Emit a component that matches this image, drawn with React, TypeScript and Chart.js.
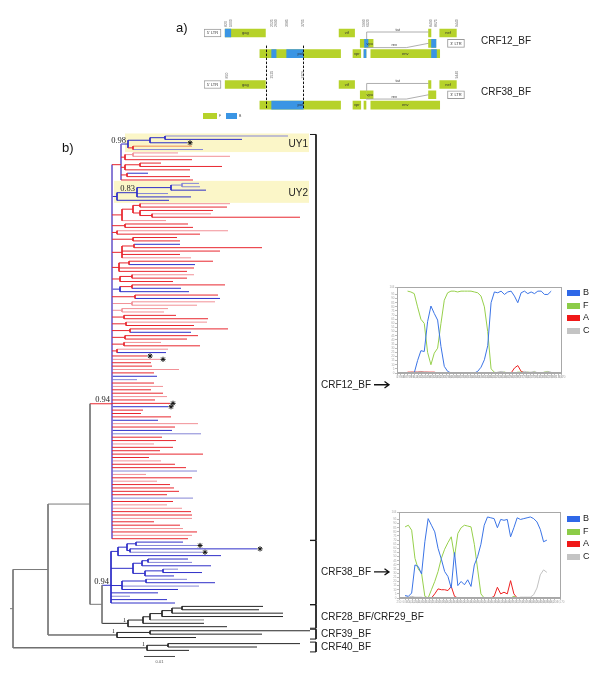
import React, { useEffect, useRef } from "react";
import { Chart, registerables } from "chart.js";

Chart.register(...registerables);

const SANS = 'Arial, "Liberation Sans", Helvetica, sans-serif';
const SERIF = '"Times New Roman", "Liberation Serif", "DejaVu Serif", serif';
Chart.defaults.font.family = SANS;

// ================= Panel b : phylogenetic tree (Newick; leaf letter = colour code, * = marked) =================
const UY1_CLADE = "(((l:123,b:77):15,b*:37):22,(o:59,l:70):5)0.98#UY1";
const N1_SUBCLADES = ["((p:45,p:97):8,r:67):4", "((r:21,r:82):15,r:65):4", "(b:21,r:63):6", "r:72"];
const UY2_CLADE = "((((l:17,l:18):11,b:35):34,l:31,b:54)0.83:20,b:52)#UY2";
const CRF12_SUBCLADES = [
  "(((p:90,r:87):7,(r:73,(p:59,r:148):12):7):11,p:44):10",
  "(r:63,r:68):13",
  "(p:111,r:83):5",
  "(r:44,r:47):21",
  "((b:46,r:128):12,r:98,r:58,p:69):10",
  "((r:84,b:66):10,r:75,r:68):7",
  "((p:62,r:55):12,r:53):8",
  "((r:93,b:49):12,b:69):8",
  "(r:83,b:85):23",
  "(p:83,p:65):20",
  "(p:46,p:42):10",
  "(r:52,r:84):12",
  "(p:81,r:68):14",
  "(r:98,b:61):18",
  "(r:73,r:62):13",
  "(p:37,r:76):12",
  "(p:51,b:49):5",
];
const COMB_LENGTHS = [35, 48, 39, 40, 67, 42, 45, 25, 42, 51, 39, 51, 55, 43, 58, 56, 31, 29, 59, 46, 86, 63, 60, 89, 50, 64, 42, 61, 48, 91, 37, 49, 63, 74, 85, 34, 80, 45, 58, 62, 67, 55, 81, 61, 55, 70, 79, 80, 80, 42, 68, 71, 85, 80, 76];
const COMB_COLORS = ["r*", "p*", "r", "r", "p", "r", "b", "l", "r", "p", "r", "r", "p", "r", "r*", "b*", "r", "r", "r", "b", "p", "r", "b", "l", "r", "r", "p", "r", "r", "r", "r", "p", "r", "r", "l", "p", "r", "p", "r", "r", "r", "r", "l", "r", "p", "p", "r", "r", "p", "r", "r", "p", "r", "p", "r"];
const CRF38_S1 = "(((b:47,l*:61):9,(b*:127,l*:72):3):9,b:103)";
const CRF38_S2 = "(((b:40,l:44):6,b:69):9,((l:15,b:39):18,b:29):12)";
const CRF38_S3 = "((l:41,b:69):24,l:77,b:56)";
const CRF38_LEAVES = ["b:47", "l:19", "b:56", "b:64"];
const CRF28_29_CLADE = "((((((k:81,k:77):10,k:111):10,k:121):12,g:54):7,k:61):15,k:99)1#CRF28_BF/CRF29_BF";
const CRF39_CLADE = "((k:160,k:112):33,k:79)1#CRF39_BF";
const CRF40_CLADE = "((k:132,k:89):21,k:42)1#CRF40_BF";

const N1_CLADE = `(${UY1_CLADE}:7,${N1_SUBCLADES.join(",")})`;
const COMB = COMB_COLORS.map((c, i) => `${c}:${COMB_LENGTHS[i]}`).join(",");
const CRF12_CLADE = `(${N1_CLADE}:9,${UY2_CLADE}:5,${CRF12_SUBCLADES.join(",")},${COMB})0.94#CRF12_BF`;
const CRF38_CLADE = `(${CRF38_S1}:7,${CRF38_S2}:22,${CRF38_S3}:11,${CRF38_LEAVES.join(",")})0.94#CRF38_BF`;
const TREE_NEWICK = `(((${CRF12_CLADE}:22,(${CRF38_CLADE}:9,${CRF28_29_CLADE}:26):12):42,${CRF39_CLADE}:69):35,${CRF40_CLADE}:134):3`;

const HIGHLIGHT_CLADES = ["UY1", "UY2"];
const BRACKET_CLADES = ["CRF12_BF", "CRF38_BF", "CRF28_BF/CRF29_BF", "CRF39_BF", "CRF40_BF"];
const BRACKET_LABEL_ROWS: Record<string, number> = { CRF12_BF: 73.5, CRF38_BF: 128.8 };
const CLADE_ROW_GAPS: Record<string, number> = { CRF39_BF: 0.2, CRF40_BF: 0.8 };
const SCALE_BAR_LABEL = "0.01";
const SCALE_BAR_LENGTH = 31;

const LEAF_COLORS: Record<string, string> = {
  r: "#e8262e", p: "#f29197", b: "#2e2ec8", l: "#8585d6", o: "#ee8a55", k: "#262626", g: "#8a8a8a",
};
const FAMILY: Record<string, string> = { r: "R", p: "R", o: "R", b: "B", l: "B", k: "K", g: "K" };

// axis frames of the tree plot (tree units / leaf rows)
const TREE_X_MIN = -10, TREE_X_MAX = 590;
const TREE_Y_MIN = -40.19, TREE_Y_MAX = 160.16;
const HIGHLIGHT_RIGHT = 299, HIGHLIGHT_INSET = 3, HIGHLIGHT_PAD = 0.75;
const BRACKET_X = 306, BRACKET_STUB = 6, BRACKET_PAD = 0.45, BRACKET_LABEL_X = 311;
const SCALE_BAR_X = 134, SCALE_BAR_ROW = 153.8;

type TNode = {
  children: TNode[]; len: number; name: string; support: string; clade: string; star: boolean;
  x: number; y: number; leafMin: number; leafMax: number; letters: string[]; parent: TNode | null;
};

function parseNewick(src: string): TNode {
  let i = 0;
  const read = (): TNode => {
    const n: TNode = { children: [], len: 0, name: "", support: "", clade: "", star: false, x: 0, y: 0, leafMin: 0, leafMax: 0, letters: [], parent: null };
    if (src[i] === "(") {
      i++;
      n.children.push(read());
      while (src[i] === ",") { i++; n.children.push(read()); }
      i++;
    }
    let label = "";
    while (i < src.length && ":,()".indexOf(src[i]) < 0) label += src[i++];
    if (src[i] === ":") {
      i++;
      let num = "";
      while (i < src.length && "0123456789.".indexOf(src[i]) >= 0) num += src[i++];
      n.len = parseFloat(num);
    }
    if (n.children.length) {
      const parts = label.split("#");
      n.support = parts[0] || "";
      n.clade = parts[1] || "";
      n.children.forEach((c) => (c.parent = n));
    } else {
      n.star = label.indexOf("*") >= 0;
      n.name = label.replace("*", "");
    }
    return n;
  };
  return read();
}

function layoutTree(root: TNode) {
  const nodes: TNode[] = [];
  const leaves: TNode[] = [];
  let row = 0;
  const walk = (n: TNode, px: number) => {
    n.x = px + n.len;
    nodes.push(n);
    if (n.clade && CLADE_ROW_GAPS[n.clade]) row += CLADE_ROW_GAPS[n.clade];
    if (!n.children.length) {
      n.y = row; row += 1;
      n.leafMin = n.leafMax = n.y; n.letters = [n.name]; leaves.push(n);
      return;
    }
    n.children.forEach((c) => walk(c, n.x));
    n.y = n.children.reduce((s, c) => s + c.y, 0) / n.children.length;
    n.leafMin = n.children[0].leafMin;
    n.leafMax = n.children[n.children.length - 1].leafMax;
    n.letters = n.children.reduce((a: string[], c) => a.concat(c.letters), []);
  };
  walk(root, 0);
  const byClade: Record<string, TNode> = {};
  nodes.forEach((n) => { if (n.clade) byClade[n.clade] = n; });
  return { root, nodes, leaves, byClade };
}

const TREE = layoutTree(parseNewick(TREE_NEWICK));

function nodeColor(n: TNode, vertical: boolean): string {
  if (!n.children.length) return LEAF_COLORS[n.name] || "#333";
  const set = Array.from(new Set(n.letters));
  if (set.length === 1) return LEAF_COLORS[set[0]];
  let R = 0, B = 0, K = 0;
  n.letters.forEach((l) => { const f = FAMILY[l]; if (f === "R") R++; else if (f === "B") B++; else K++; });
  if (K && (R || B)) return "#7a7a7a";
  if (K) return "#2a2a2a";
  if (vertical && R && B && n.letters.length >= 10) return "#7b6bd0";
  return R >= B ? "#e8262e" : "#2e2ec8";
}

function buildTreeDatasets() {
  const groups: Record<string, any[]> = {};
  const add = (c: string, x1: number, y1: number, x2: number, y2: number) => {
    (groups[c] = groups[c] || []).push({ x: x1, y: y1 }, { x: x2, y: y2 }, { x: null, y: null });
  };
  TREE.nodes.forEach((n) => {
    const px = n.parent ? n.parent.x : n.x - n.len;
    add(nodeColor(n, false), px, n.y, n.x, n.y);
    if (n.children.length) add(nodeColor(n, true), n.x, n.children[0].y, n.x, n.children[n.children.length - 1].y);
  });
  BRACKET_CLADES.forEach((name) => {
    const n = TREE.byClade[name];
    const y1 = n.leafMin - BRACKET_PAD, y2 = n.leafMax + BRACKET_PAD;
    add("#1a1a1a", BRACKET_X - BRACKET_STUB, y1, BRACKET_X, y1);
    add("#1a1a1a", BRACKET_X, y1, BRACKET_X, y2);
    add("#1a1a1a", BRACKET_X, y2, BRACKET_X - BRACKET_STUB, y2);
  });
  add("#444444", SCALE_BAR_X, SCALE_BAR_ROW, SCALE_BAR_X + SCALE_BAR_LENGTH, SCALE_BAR_ROW);
  const lines = Object.keys(groups).map((c) => ({
    type: "scatter", data: groups[c], showLine: true, borderColor: c, borderWidth: 1,
    pointRadius: 0, spanGaps: false, borderCapStyle: "butt",
  }));
  const stars = {
    type: "scatter",
    data: TREE.leaves.filter((l) => l.star).map((l) => ({ x: l.x + 3, y: l.y })),
    pointStyle: "star", pointRadius: 2.6, borderColor: "#111", borderWidth: 1, backgroundColor: "#111", showLine: false,
  };
  return [stars, ...lines];
}

const treePlugin = {
  id: "treeDecor",
  beforeDatasetsDraw(chart: any) {
    const { ctx } = chart;
    const xs = chart.scales.x, ys = chart.scales.y;
    ctx.save();
    HIGHLIGHT_CLADES.forEach((name) => {
      const n = TREE.byClade[name];
      const x1 = xs.getPixelForValue(n.x - HIGHLIGHT_INSET), x2 = xs.getPixelForValue(HIGHLIGHT_RIGHT);
      const y1 = ys.getPixelForValue(n.leafMin - HIGHLIGHT_PAD), y2 = ys.getPixelForValue(n.leafMax + HIGHLIGHT_PAD);
      ctx.fillStyle = "#fbf6c8";
      ctx.fillRect(x1, y1, x2 - x1, y2 - y1);
      ctx.fillStyle = "#222";
      ctx.font = `10px ${SANS}`;
      ctx.textAlign = "right";
      ctx.textBaseline = "middle";
      ctx.fillText(name, x2 - 1, (y1 + y2) / 2 + 1);
    });
    ctx.restore();
  },
  afterDatasetsDraw(chart: any) {
    const { ctx } = chart;
    const xs = chart.scales.x, ys = chart.scales.y;
    ctx.save();
    ctx.fillStyle = "#222";
    TREE.nodes.forEach((n) => {
      if (!n.support) return;
      const small = n.support === "1";
      ctx.font = `${small ? 6 : 8.5}px ${SERIF}`;
      ctx.textAlign = "right";
      ctx.textBaseline = "alphabetic";
      ctx.fillText(n.support, xs.getPixelForValue(n.x) - 2, ys.getPixelForValue(n.y) - 1.5);
    });
    ctx.font = `10px ${SANS}`;
    ctx.textAlign = "left";
    ctx.textBaseline = "middle";
    ctx.strokeStyle = "#111";
    ctx.lineWidth = 1.3;
    BRACKET_CLADES.forEach((name) => {
      const n = TREE.byClade[name];
      const hasArrow = name in BRACKET_LABEL_ROWS;
      const row = hasArrow ? BRACKET_LABEL_ROWS[name] : (n.leafMin + n.leafMax) / 2;
      const py = ys.getPixelForValue(row);
      const px = xs.getPixelForValue(BRACKET_LABEL_X);
      ctx.fillText(name, px, py + 0.5);
      if (hasArrow) {
        const s = px + ctx.measureText(name).width + 3, e = s + 15;
        ctx.beginPath();
        ctx.moveTo(s, py); ctx.lineTo(e, py);
        ctx.moveTo(e - 4.5, py - 3.2); ctx.lineTo(e, py); ctx.lineTo(e - 4.5, py + 3.2);
        ctx.stroke();
      }
    });
    ctx.font = `4px ${SANS}`;
    ctx.textAlign = "center";
    ctx.fillStyle = "#555";
    ctx.fillText(SCALE_BAR_LABEL, xs.getPixelForValue(SCALE_BAR_X + SCALE_BAR_LENGTH / 2), ys.getPixelForValue(SCALE_BAR_ROW) + 5);
    ctx.fillStyle = "#111";
    ctx.font = `13px ${SANS}`;
    ctx.textAlign = "left";
    ctx.fillText("a)", 176, 28);
    ctx.fillText("b)", 62, 148);
    ctx.restore();
  },
};

// ================= Panel a : genome maps (HXB2 coordinates) =================
const MAP_ROWS = ["a1", "a2", "a3", "s1", "s2", "b1", "b2", "b3"];
const MAP_ROW_START = [0, 5];
const MAP_NAMES = ["CRF12_BF", "CRF38_BF"];
const MAP_X_MAX = 10299;
const GENE_NAMES = ["gag", "pol", "vif", "vpr", "tat", "rev", "vpu", "env", "tat", "rev", "nef"];
const GENE_START = [790, 2085, 5041, 5559, 5831, 5970, 6062, 6225, 8379, 8379, 8797];
const GENE_END = [2292, 5096, 5619, 5850, 6045, 6045, 6310, 8795, 8469, 8653, 9417];
const GENE_FRAME = [0, 2, 0, 2, 1, 2, 1, 2, 0, 1, 0];
const GENE_LABELLED = [true, true, true, true, false, false, true, true, false, false, true];
const LTR_NAMES = ["5' LTR", "3' LTR"];
const LTR_START = [1, 9086];
const LTR_END = [634, 9719];
const LTR_FRAME = [0, 1];
const B_SEG_START = [[790, 2525, 3085, 5990, 6062, 5970, 8490, 8490], [2525]];
const B_SEG_END = [[1000, 2690, 3705, 6045, 6120, 6045, 8653, 8675], [3705]];
const B_SEG_FRAME = [[0, 2, 2, 1, 1, 2, 1, 2], [2]];
const BREAKPOINT_LABELS = [[820, 1000, 2525, 2690, 3085, 3705, 5990, 6120, 8490, 8675, 9440], [850, 2525, 3705, 9440]];
const DASHED_BREAKPOINTS = [2313, 3705];
const TAT_LINK = [6070, 8379];
const REV_LINK = [6045, 7550, 8379];
const SUBTYPE_F_COLOR = "#b6d22a";
const SUBTYPE_B_COLOR = "#3a95e4";

const mapPlugin = {
  id: "mapDecor",
  afterDatasetsDraw(chart: any) {
    const { ctx } = chart;
    const xs = chart.scales.x, ys = chart.scales.y;
    const px = (v: number) => xs.getPixelForValue(v);
    const cy = (r: number) => ys.getPixelForValue(r);
    const H = 4;
    ctx.save();
    ctx.strokeStyle = "#111";
    ctx.lineWidth = 1;
    ctx.setLineDash([2.5, 1.5]);
    DASHED_BREAKPOINTS.forEach((v) => {
      ctx.beginPath();
      ctx.moveTo(Math.round(px(v)) + 0.5, cy(2) - H - 4);
      ctx.lineTo(Math.round(px(v)) + 0.5, cy(7) + H);
      ctx.stroke();
    });
    ctx.setLineDash([]);
    MAP_ROW_START.forEach((base, m) => {
      ctx.fillStyle = "#333";
      ctx.font = `4px ${SANS}`;
      ctx.textAlign = "center";
      ctx.textBaseline = "middle";
      GENE_NAMES.forEach((g, i) => {
        if (!GENE_LABELLED[i]) return;
        ctx.fillText(g, px((GENE_START[i] + GENE_END[i]) / 2), cy(base + GENE_FRAME[i]) + 0.3);
      });
      LTR_NAMES.forEach((g, i) => ctx.fillText(g, px((LTR_START[i] + LTR_END[i]) / 2), cy(base + LTR_FRAME[i]) + 0.3));
      ctx.strokeStyle = "#9a9a9a";
      ctx.lineWidth = 0.8;
      const tx1 = px(TAT_LINK[0]), tx2 = px(TAT_LINK[1]), ty = cy(base) - 1;
      ctx.beginPath();
      ctx.moveTo(tx1, cy(base + 1) - H);
      ctx.lineTo(tx1, ty);
      ctx.lineTo(tx2, ty);
      ctx.stroke();
      ctx.textBaseline = "bottom";
      ctx.fillText("tat", (tx1 + tx2) / 2, ty - 0.5);
      const ry = cy(base + 1) + H + 0.3;
      ctx.beginPath();
      ctx.moveTo(px(REV_LINK[0]), ry);
      ctx.lineTo(px(REV_LINK[1]), ry);
      ctx.lineTo(px(REV_LINK[2]), cy(base + 1));
      ctx.stroke();
      ctx.fillText("rev", (px(REV_LINK[0]) + px(REV_LINK[1])) / 2 + 8, ry - 0.3);
      ctx.fillStyle = "#666";
      ctx.font = `3.5px ${SANS}`;
      ctx.textAlign = "left";
      ctx.textBaseline = "middle";
      BREAKPOINT_LABELS[m].forEach((v) => {
        ctx.save();
        ctx.translate(px(v), cy(base) - H - 2);
        ctx.rotate(-Math.PI / 2);
        ctx.fillText(String(v), 0, 0);
        ctx.restore();
      });
      ctx.fillStyle = "#222";
      ctx.font = `10px ${SANS}`;
      ctx.textAlign = "left";
      ctx.textBaseline = "middle";
      ctx.fillText(MAP_NAMES[m], 291, cy(base + 1) - 2.5);
    });
    ctx.fillStyle = SUBTYPE_F_COLOR;
    ctx.fillRect(13, 113, 14, 6);
    ctx.fillStyle = SUBTYPE_B_COLOR;
    ctx.fillRect(36, 113, 11, 6);
    ctx.fillStyle = "#555";
    ctx.font = `3.5px ${SANS}`;
    ctx.textAlign = "left";
    ctx.fillText("F", 29, 116);
    ctx.fillText("B", 49, 116);
    ctx.restore();
  },
};

// ================= Bootscan insets =================
const WINDOW_POS = [600, 790, 980, 1170, 1360, 1550, 1740, 1930, 2120, 2310, 2500, 2690, 2880, 3070, 3260, 3450, 3640, 3830, 4020, 4210, 4400, 4590, 4780, 4970, 5160, 5350, 5540, 5730, 5920, 6110, 6300, 6490, 6680, 6870, 7060, 7250, 7440, 7630, 7820, 8010, 8200, 8390, 8580, 8770];
const BS_SERIES = ["B", "F", "A", "C"];
const BS_LINE_COLORS = ["#3b74e6", "#97d04c", "#ee2222", "#c2c2c2"];
const BS_LEGEND_COLORS = ["#2f68e8", "#8ccc48", "#f01818", "#c4c4c4"];

const CRF12_B = [0, 0, 0, 15, 27, 26, 62, 81, 72, 64, 32, 8, 2, 0, 0, 0, 0, 0, 0, 0, 0, 2, 7, 16, 33, 85, 98, 97, 99, 95, 98, 99, 93, 85, 97, 99, 96, 98, 96, 99, 99, 95, 95, 99];
const CRF12_F = [99, 98, 96, 80, 65, 60, 25, 10, 24, 30, 60, 88, 97, 99, 99, 98, 99, 99, 99, 99, 98, 97, 93, 80, 50, 5, 1, 0, 0, 1, 0, 0, 0, 1, 1, 0, 1, 0, 1, 0, 0, 1, 1, 0];
const CRF12_A = [1, 1, 1, 1, 1, 1, 1, 1, 1, 0, 0, 0, 0, 0, 0, 0, 0, 0, 0, 0, 0, 0, 0, 0, 0, 0, 0, 0, 0, 0, 0, 0, 6, 9, 2, 0, 0, 0, 0, 0, 0, 0, 0, 0];
const CRF12_C = [0, 1, 1, 1, 2, 1, 1, 0, 0, 0, 0, 0, 0, 0, 0, 0, 0, 0, 0, 0, 0, 0, 0, 0, 0, 0, 0, 1, 2, 1, 0, 0, 0, 0, 1, 2, 1, 1, 2, 0, 0, 1, 2, 1];
const CRF38_B = [3, 2, 6, 40, 38, 29, 68, 96, 88, 80, 60, 47, 32, 26, 12, 55, 15, 20, 16, 22, 14, 40, 50, 65, 88, 98, 97, 96, 85, 95, 94, 95, 74, 85, 97, 95, 96, 97, 98, 96, 92, 83, 68, 70];
const CRF38_F = [86, 88, 82, 48, 35, 30, 2, 0, 10, 20, 32, 48, 59, 67, 74, 50, 78, 85, 88, 87, 86, 65, 35, 5, 0, 0, 0, 0, 0, 0, 0, 0, 0, 2, 0, 0, 0, 0, 0, 0, 0, 0, 0, 0];
const CRF38_A = [0, 0, 0, 0, 0, 0, 0, 0, 0, 5, 11, 10, 10, 9, 14, 2, 0, 0, 0, 0, 0, 0, 0, 0, 0, 0, 0, 2, 13, 5, 7, 5, 21, 5, 0, 0, 0, 0, 0, 0, 0, 0, 0, 0];
const CRF38_C = [1, 1, 2, 1, 1, 1, 0, 0, 0, 0, 0, 0, 0, 0, 0, 0, 0, 0, 0, 0, 0, 0, 0, 0, 0, 0, 0, 0, 0, 0, 0, 0, 0, 0, 0, 1, 1, 1, 1, 4, 12, 28, 34, 31];

const INSETS = [
  { left: 388, top: 283, width: 178, height: 97, xMin: 0, xMax: 9370, values: [CRF12_B, CRF12_F, CRF12_A, CRF12_C], legendY: 293 },
  { left: 390, top: 508, width: 175, height: 97, xMin: 250, xMax: 9570, values: [CRF38_B, CRF38_F, CRF38_A, CRF38_C], legendY: 519 },
];

const framePlugin = {
  id: "frame",
  afterDraw(chart: any) {
    const { ctx, chartArea: a } = chart;
    ctx.save();
    ctx.strokeStyle = "#a8a8a8";
    ctx.lineWidth = 1;
    ctx.strokeRect(Math.round(a.left) + 0.5, Math.round(a.top) + 0.5, Math.round(a.right - a.left) - 1, Math.round(a.bottom - a.top) - 1);
    ctx.restore();
  },
};

function insetConfig(k: number): any {
  const ins = INSETS[k];
  return {
    type: "line",
    data: {
      datasets: BS_SERIES.map((s, i) => ({
        label: s,
        data: WINDOW_POS.map((x, j) => ({ x, y: ins.values[i][j] })),
        borderColor: BS_LINE_COLORS[i],
        borderWidth: 1,
        pointRadius: 0,
        tension: 0,
        fill: false,
      })),
    },
    options: {
      responsive: false, animation: false, devicePixelRatio: 1,
      layout: { autoPadding: false, padding: { top: 4, right: 4, left: 0, bottom: 0 } },
      plugins: { legend: { display: false }, tooltip: { enabled: false } },
      scales: {
        x: {
          type: "linear", min: ins.xMin, max: ins.xMax,
          afterFit: (s: any) => { s.height = 7; },
          ticks: { stepSize: 200, autoSkip: false, font: { size: 3 }, color: "#aaa", maxRotation: 0, padding: 0.5 },
          grid: { drawOnChartArea: false, tickLength: 2, color: "#bbb" },
          border: { color: "#aaa" },
        },
        y: {
          type: "linear", min: 0, max: 104,
          afterFit: (s: any) => { s.width = 9; },
          ticks: { stepSize: 5, autoSkip: false, font: { size: 3 }, color: "#aaa", padding: 0.5 },
          grid: { drawOnChartArea: false, tickLength: 2, color: "#bbb" },
          border: { color: "#aaa" },
        },
      },
    },
    plugins: [framePlugin],
  };
}

function mapConfig(): any {
  const bars = (starts: number[], ends: number[], frames: number[], base: number) =>
    starts.map((s, i) => ({ x: [s, ends[i]], y: MAP_ROWS[base + frames[i]] }));
  const genes: any[] = [], bSegs: any[] = [], ltrs: any[] = [];
  MAP_ROW_START.forEach((base, m) => {
    genes.push(...bars(GENE_START, GENE_END, GENE_FRAME, base));
    bSegs.push(...bars(B_SEG_START[m], B_SEG_END[m], B_SEG_FRAME[m], base));
    ltrs.push(...bars(LTR_START, LTR_END, LTR_FRAME, base));
  });
  const common = { grouped: false, barThickness: 8, borderSkipped: false };
  return {
    type: "bar",
    data: {
      labels: MAP_ROWS,
      datasets: [
        { label: "B", data: bSegs, backgroundColor: SUBTYPE_B_COLOR, borderWidth: 0, ...common },
        { label: "F", data: genes, backgroundColor: SUBTYPE_F_COLOR, borderWidth: 0, ...common },
        { label: "LTR", data: ltrs, backgroundColor: "#ffffff", borderColor: "#9a9a9a", borderWidth: 1, ...common },
      ],
    },
    options: {
      indexAxis: "y", responsive: false, animation: false, devicePixelRatio: 1,
      layout: { autoPadding: false, padding: { left: 14, right: 70, top: 27.86, bottom: 14.8 } },
      scales: {
        x: { type: "linear", min: 0, max: MAP_X_MAX, display: false },
        y: { type: "category", display: false },
      },
      plugins: { legend: { display: false }, tooltip: { enabled: false } },
    },
    plugins: [mapPlugin],
  };
}

export default function App() {
  const treeRef = useRef<HTMLCanvasElement | null>(null);
  const mapRef = useRef<HTMLCanvasElement | null>(null);
  const in1Ref = useRef<HTMLCanvasElement | null>(null);
  const in2Ref = useRef<HTMLCanvasElement | null>(null);

  useEffect(() => {
    const charts: Chart[] = [];
    if (treeRef.current) {
      charts.push(
        new Chart(treeRef.current, {
          type: "scatter",
          data: { datasets: buildTreeDatasets() as any },
          options: {
            responsive: false, animation: false, devicePixelRatio: 1,
            layout: { autoPadding: false, padding: 0 },
            scales: {
              x: { type: "linear", min: TREE_X_MIN, max: TREE_X_MAX, display: false },
              y: { type: "linear", min: TREE_Y_MIN, max: TREE_Y_MAX, reverse: true, display: false },
            },
            plugins: { legend: { display: false }, tooltip: { enabled: false } },
          } as any,
          plugins: [treePlugin as any],
        })
      );
    }
    if (mapRef.current) charts.push(new Chart(mapRef.current, mapConfig()));
    if (in1Ref.current) charts.push(new Chart(in1Ref.current, insetConfig(0)));
    if (in2Ref.current) charts.push(new Chart(in2Ref.current, insetConfig(1)));
    return () => charts.forEach((c) => c.destroy());
  }, []);

  const abs = (l: number, t: number, w: number, h: number): React.CSSProperties => ({ position: "absolute", left: l, top: t, width: w, height: h });

  return (
    <div style={{ position: "absolute", left: 0, top: 0, width: 600, height: 678, background: "#fff", overflow: "hidden" }}>
      <canvas ref={treeRef} width={600} height={678} style={abs(0, 0, 600, 678)} />
      <canvas ref={mapRef} width={360} height={125} style={abs(190, 0, 360, 125)} />
      <canvas ref={in1Ref} width={INSETS[0].width} height={INSETS[0].height} style={abs(INSETS[0].left, INSETS[0].top, INSETS[0].width, INSETS[0].height)} />
      <canvas ref={in2Ref} width={INSETS[1].width} height={INSETS[1].height} style={abs(INSETS[1].left, INSETS[1].top, INSETS[1].width, INSETS[1].height)} />
      {INSETS.map((ins, k) =>
        BS_SERIES.map((s, i) => (
          <React.Fragment key={`${k}-${s}`}>
            <div style={{ ...abs(567, ins.legendY + i * 12.6 - 3, 13, 6), background: BS_LEGEND_COLORS[i] }} />
            <div style={{ position: "absolute", left: 583, top: ins.legendY + i * 12.6 - 6, fontFamily: SANS, fontSize: 9, lineHeight: "11px", color: "#222" }}>{s}</div>
          </React.Fragment>
        ))
      )}
    </div>
  );
}
